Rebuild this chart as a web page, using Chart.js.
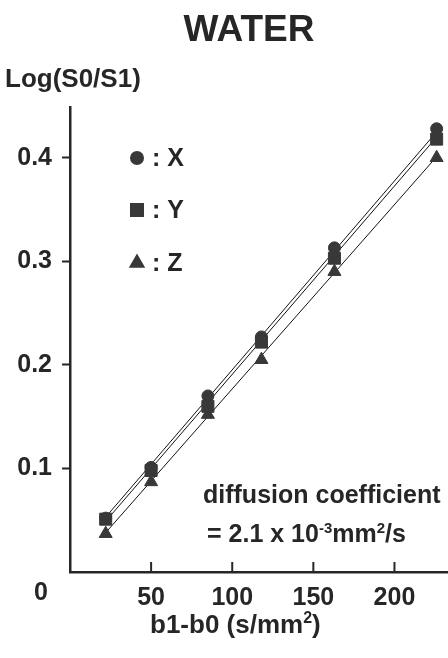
<!DOCTYPE html>
<html>
<head>
<meta charset="utf-8">
<script src="https://cdn.jsdelivr.net/npm/chart.js@4.4.1/dist/chart.umd.min.js"></script>
<style>
  html, body { margin: 0; padding: 0; background: #fff; }
  canvas { display: block; }
</style>
</head>
<body>
<canvas id="waterChart" width="448" height="658"></canvas>
<script>
// b1-b0 (s/mm2) at which each direction was measured
let bValues = [22, 50, 85, 118, 163, 226];
let seriesNames = ["X", "Y", "Z"];
let logX = [0.052, 0.101, 0.170, 0.227, 0.313, 0.428];
let logY = [0.051, 0.098, 0.160, 0.222, 0.303, 0.418];
let logZ = [0.037, 0.087, 0.152, 0.205, 0.290, 0.400];
// fitted lines, read at first and last b value
let fitB = [22, 226];
let fitX = [0.053, 0.425];
let fitY = [0.049, 0.420];
let fitZ = [0.038, 0.401];
let xTicks = [50, 100, 150, 200];
let yTicks = [0.1, 0.2, 0.3, 0.4];

let ink = "#262626";
let markerInk = "#383838";
let fontFamily = "'Liberation Sans', Arial, Helvetica, sans-serif";
let pointStyles = ["circle", "rect", "triangle"];
let pointSizes = [6, 8.5, 7.5];

function toPoints(xs, ys) {
  return xs.map((x, i) => ({ x: x, y: ys[i] }));
}

function markerSet(i, values, order) {
  return {
    label: seriesNames[i],
    data: toPoints(bValues, values),
    showLine: false,
    pointStyle: pointStyles[i],
    pointRadius: pointSizes[i],
    pointBackgroundColor: markerInk,
    pointBorderColor: markerInk,
    pointBorderWidth: 1,
    order: order,
  };
}

function fitSet(values) {
  return {
    data: toPoints(fitB, values),
    showLine: true,
    borderColor: "#111",
    borderWidth: 1,
    pointRadius: 0,
    order: 10,
  };
}

// superscript-aware text: parts are [text, isSuper]
function drawParts(ctx, parts, x, y, size) {
  parts.forEach((p) => {
    if (p[1]) {
      ctx.font = "bold " + Math.round(size * 0.6) + "px " + fontFamily;
      ctx.fillText(p[0], x, y - size * 0.38);
    } else {
      ctx.font = "bold " + size + "px " + fontFamily;
      ctx.fillText(p[0], x, y);
    }
    x += ctx.measureText(p[0]).width;
  });
}

let decorations = {
  id: "decorations",
  afterDraw(chart) {
    let ctx = chart.ctx;
    let xs = chart.scales.x;
    let area = chart.chartArea;
    ctx.save();

    // inward ticks on the x axis
    ctx.strokeStyle = ink;
    ctx.lineWidth = 2;
    xTicks.forEach((v) => {
      let px = xs.getPixelForValue(v);
      ctx.beginPath();
      ctx.moveTo(px, area.bottom);
      ctx.lineTo(px, area.bottom - 10);
      ctx.stroke();
    });

    ctx.fillStyle = ink;
    ctx.textBaseline = "alphabetic";

    ctx.textAlign = "center";
    ctx.font = "bold 37px " + fontFamily;
    ctx.fillText("WATER", 249, 41);

    ctx.textAlign = "left";
    ctx.font = "bold 26px " + fontFamily;
    ctx.fillText("Log(S0/S1)", 5, 87);

    ctx.font = "bold 25px " + fontFamily;
    ctx.textAlign = "center";
    ctx.fillText("0", 41, 600);

    ctx.textAlign = "left";
    drawParts(ctx, [["b1-b0 (s/mm", false], ["2", true], [")", false]], 150, 633, 26);

    ctx.font = "bold 25px " + fontFamily;
    ctx.fillText("diffusion coefficient", 203, 503);
    drawParts(ctx, [["= 2.1 x 10", false], ["-3", true], ["mm", false], ["2", true], ["/s", false]], 207, 542, 25);

    // legend
    let legendY = [158, 210, 263];
    seriesNames.forEach((name, i) => {
      ctx.fillStyle = markerInk;
      ctx.strokeStyle = markerInk;
      Chart.helpers.drawPoint(ctx, { pointStyle: pointStyles[i], radius: pointSizes[i], borderWidth: 1, rotation: 0 }, 137, legendY[i]);
      ctx.fillStyle = ink;
      ctx.font = "bold 25px " + fontFamily;
      ctx.textBaseline = "middle";
      ctx.fillText(": " + name, 152, legendY[i] + 1);
    });

    ctx.restore();
  },
};

let myChart = new Chart(document.getElementById("waterChart"), {
  type: "scatter",
  data: {
    datasets: [
      markerSet(1, logY, 1),
      markerSet(0, logX, 2),
      markerSet(2, logZ, 3),
      fitSet(fitX),
      fitSet(fitY),
      fitSet(fitZ),
    ],
  },
  options: {
    responsive: false,
    animation: false,
    devicePixelRatio: 1,
    layout: { autoPadding: false, padding: { top: 107, right: 0, bottom: 0, left: 0 } },
    plugins: {
      legend: { display: false },
      tooltip: { enabled: false },
      title: { display: false },
    },
    scales: {
      x: {
        type: "linear",
        min: 0,
        max: 233,
        afterFit: (s) => { s.height = 86; s.paddingLeft = 0; s.paddingRight = 0; },
        afterBuildTicks: (s) => { s.ticks = xTicks.map((v) => ({ value: v })); },
        grid: { display: true, drawOnChartArea: false, drawTicks: false },
        border: { display: true, color: ink, width: 2.5 },
        ticks: {
          padding: 11,
          color: ink,
          font: { family: fontFamily, size: 25, weight: "bold" },
          maxRotation: 0,
          autoSkip: false,
        },
      },
      y: {
        type: "linear",
        min: 0,
        max: 0.449,
        afterFit: (s) => { s.width = 70; s.paddingTop = 0; s.paddingBottom = 0; },
        afterBuildTicks: (s) => { s.ticks = yTicks.map((v) => ({ value: v })); },
        grid: { drawOnChartArea: false, drawTicks: true, tickLength: 8, tickColor: ink, tickWidth: 2 },
        border: { display: true, color: ink, width: 2.5 },
        ticks: {
          padding: 10,
          color: ink,
          font: { family: fontFamily, size: 25, weight: "bold" },
          callback: (v) => v.toFixed(1),
          autoSkip: false,
        },
      },
    },
  },
  plugins: [decorations],
});
</script>
</body>
</html>
